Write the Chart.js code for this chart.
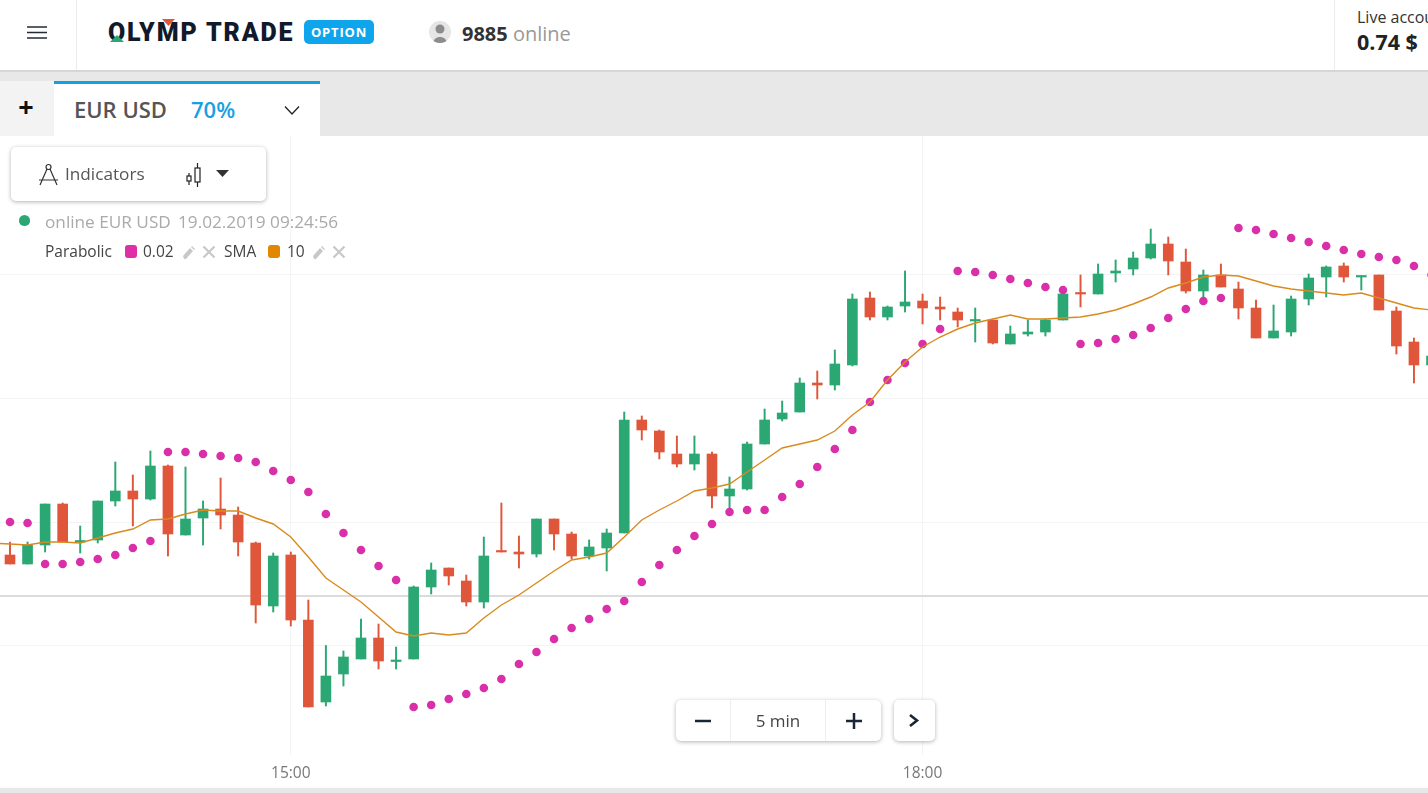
<!DOCTYPE html>
<html lang="en">
<head>
<meta charset="UTF-8">
<title>EUR USD</title>
<style>
    html, body { margin: 0; padding: 0; background: #fff; overflow: hidden; }
    body { width: 1428px; height: 793px; position: relative; font-family: 'Open Sans', sans-serif; color: #444; }
    .abs { position: absolute; white-space: nowrap; }
    #header { left: 0; top: 0; width: 1428px; height: 70px; background: #fff; border-bottom: 2px solid #d6d6d6; }
    #tabs { left: 0; top: 72px; width: 1428px; height: 64px; background: #e8e8e8; }
    #plusTab { left: 0; top: 81px; width: 52px; padding-right: 2px; height: 55px; background: #f3f3f3; font-size: 27px; font-weight: 700; color: #111; text-align: center; line-height: 52px; }
    #eurTab { left: 54px; top: 81px; width: 266px; height: 52px; background: #fff; border-top: 3px solid #12a0e4; }
    #chartWrap { left: 0; top: 136px; width: 1428px; height: 652px; }
    #bottomStrip { left: 0; top: 788px; width: 1428px; height: 5px; background: #e8e8e8; }
    .card { background: #fff; border-radius: 5px; box-shadow: 0 1px 4px rgba(0,0,0,.3); }
    .swatch { width: 12px; height: 13px; border-radius: 3px; }
</style>
<script src="https://cdn.jsdelivr.net/npm/chart.js@4"></script>
</head>
<body>
<div class="abs" id="chartWrap"><canvas id="chart" width="1428" height="652"></canvas></div>

<div class="abs" id="header"></div>
<svg class="abs" style="left:27px;top:26px" width="21" height="13"><path d="M0 1H20M0 6.500H20M0 12H20" stroke="#222b36" stroke-width="1.500"/></svg>
<div class="abs" style="left:76px;top:0;width:1px;height:70px;background:#ececec"></div>
<div class="abs" style="left:108px;top:18px;font:900 25px Roboto,sans-serif;letter-spacing:1.85px;color:#111a2a">OLYMP TRADE</div>
<svg class="abs" style="left:105px;top:18px" width="80" height="26"><path d="M5 24L12 17L19 24Z" fill="#2aa772"/><path d="M57 1H70L63.500 8Z" fill="#e0563a"/></svg>
<div class="abs" style="left:304px;top:20px;width:70px;height:24px;background:#0fa5ec;border-radius:5px;color:#fff;font:700 13px/24px 'Open Sans',sans-serif;text-align:center;letter-spacing:.8px">OPTION</div>
<div class="abs" style="left:429px;top:21px;width:22px;height:22px;border-radius:11px;background:#e6e6e6;overflow:hidden"><svg width="22" height="22"><circle cx="11" cy="8" r="4.500" fill="#8c8c8c"/><path d="M4 22C5 14 17 14 18 22Z" fill="#8c8c8c"/></svg></div>
<div class="abs" style="left:462px;top:20px;font-size:20px;line-height:28px"><b style="color:#333">9885</b> <span style="color:#999">online</span></div>
<div class="abs" style="left:1334px;top:0;width:1px;height:70px;background:#ececec"></div>
<div class="abs" style="left:1357px;top:5px;font-size:16px;line-height:24px;color:#333">Live account</div>
<div class="abs" style="left:1357px;top:27px;font-size:21.500px;line-height:30px;font-weight:700;color:#222">0.74 $</div>

<div class="abs" id="tabs"></div>
<div class="abs" id="plusTab">+</div>
<div class="abs" id="eurTab"></div>
<div class="abs" style="left:74px;top:94px;font-size:22px;line-height:30px;font-weight:600;color:#555">EUR USD</div>
<div class="abs" style="left:191px;top:94px;font-size:22px;line-height:30px;font-weight:600;color:#1a9fe3">70%</div>
<svg class="abs" style="left:284px;top:105px" width="16" height="11"><path d="M1 1.500L8 9L15 1.500" fill="none" stroke="#222" stroke-width="1.300"/></svg>

<div class="abs card" style="left:11px;top:147px;width:255px;height:54px"></div>
<svg class="abs" style="left:38px;top:163px" width="21" height="24" fill="none" stroke="#333" stroke-width="1.200"><circle cx="10.500" cy="4" r="2.500"/><path d="M9 6L2 22M12 6L19 22M1 17H20"/></svg>
<div class="abs" style="left:65px;top:162px;font-size:17.200px;line-height:24px;color:#555">Indicators</div>
<svg class="abs" style="left:185px;top:162px" width="20" height="26" fill="none" stroke="#222" stroke-width="1.200"><rect x="2" y="14" width="4" height="5"/><path d="M4 11V14M4 19V23"/><rect x="10" y="6" width="5" height="14"/><path d="M12.500 1V6M12.500 20V25"/></svg>
<svg class="abs" style="left:216px;top:170px" width="13" height="7"><path d="M0 0H13L6.500 7Z" fill="#333"/></svg>

<div class="abs" style="left:19px;top:215px;width:11px;height:11px;border-radius:50% 50% 45% 45%;background:#2aa772"></div>
<div class="abs" style="left:45px;top:211px;font-size:17.200px;line-height:22px;color:#aaa">online EUR USD</div>
<div class="abs" style="left:178px;top:211px;font-size:17.200px;line-height:22px;color:#aaa">19.02.2019 09:24:56</div>
<div class="abs" style="left:45px;top:241px;font-size:15.500px;line-height:20px;color:#444">Parabolic</div>
<div class="abs swatch" style="left:125px;top:245px;background:#de2fa6"></div>
<div class="abs" style="left:143px;top:241px;font-size:15.500px;line-height:20px;color:#444">0.02</div>
<svg class="abs" style="left:182px;top:245px" width="14" height="15"><path d="M2 14L1 11L8 3L11 6L4 14Z M9 2L10 1L13 4L12 5Z" fill="#c8c8c8"/></svg>
<svg class="abs" style="left:202px;top:245px" width="14" height="14"><path d="M1.500 1.500L12.500 12.500M12.500 1.500L1.500 12.500" stroke="#c8c8c8" stroke-width="2.200"/></svg>
<div class="abs" style="left:224px;top:241px;font-size:15.500px;line-height:20px;color:#444">SMA</div>
<div class="abs swatch" style="left:268px;top:245px;background:#e28700"></div>
<div class="abs" style="left:287px;top:241px;font-size:15.500px;line-height:20px;color:#444">10</div>
<svg class="abs" style="left:312px;top:245px" width="14" height="15"><path d="M2 14L1 11L8 3L11 6L4 14Z M9 2L10 1L13 4L12 5Z" fill="#c8c8c8"/></svg>
<svg class="abs" style="left:332px;top:245px" width="14" height="14"><path d="M1.500 1.500L12.500 12.500M12.500 1.500L1.500 12.500" stroke="#c8c8c8" stroke-width="2.200"/></svg>

<div class="abs card" style="left:676px;top:700px;width:205px;height:41px"></div>
<div class="abs" style="left:730px;top:700px;width:1px;height:41px;background:#eee"></div>
<div class="abs" style="left:825px;top:700px;width:1px;height:41px;background:#eee"></div>
<svg class="abs" style="left:694px;top:712px" width="18" height="18"><path d="M1 9H17" stroke="#1b2635" stroke-width="2.500"/></svg>
<div class="abs" style="left:731px;top:709px;width:94px;text-align:center;font-size:17px;line-height:24px;color:#444">5 min</div>
<svg class="abs" style="left:845px;top:712px" width="18" height="18"><path d="M1 9H17M9 1V17" stroke="#1b2635" stroke-width="2.500"/></svg>
<div class="abs card" style="left:894px;top:700px;width:41px;height:41px"></div>
<svg class="abs" style="left:908px;top:713px" width="12" height="15"><path d="M2 2L9 7.500L2 13" fill="none" stroke="#1b2635" stroke-width="2.600"/></svg>
<div class="abs" id="bottomStrip"></div>

<script>
// 5 min candles, prices in points above 1.13000, first slot is just off the left edge
const times = ['13:35','13:40','13:45','13:50','13:55','14:00','14:05','14:10','14:15','14:20','14:25','14:30','14:35','14:40','14:45','14:50','14:55',
    '15:00','15:05','15:10','15:15','15:20','15:25','15:30','15:35','15:40','15:45','15:50','15:55',
    '16:00','16:05','16:10','16:15','16:20','16:25','16:30','16:35','16:40','16:45','16:50','16:55',
    '17:00','17:05','17:10','17:15','17:20','17:25','17:30','17:35','17:40','17:45','17:50','17:55',
    '18:00','18:05','18:10','18:15','18:20','18:25','18:30','18:35','18:40','18:45','18:50','18:55',
    '19:00','19:05','19:10','19:15','19:20','19:25','19:30','19:35','19:40','19:45','19:50','19:55',
    '20:00','20:05','20:10','20:15','20:20','20:25'];
const tickLabels = ['15:00', '18:00'];
const priceGrid = [0, 123, 247, 371];
const lastPrice = 49;

const highs = [null,103,103,141,142,119,144,183,170,194,180,178,144,167,138,103,92,93,45,0,-6,26,21,-2,59,82,77,70,108,142,109,126,126,113,105,116,233,229,215,209,209,193,168,203,236,244,267,274,295,351,353,339,374,351,348,337,337,325,319,325,326,351,370,381,385,393,416,408,396,375,381,363,345,340,349,371,379,382,369,370,338,307,293];
const lows = [null,81,81,93,103,92,102,139,119,145,89,110,100,116,89,22,33,19,-62,-61,-41,-14,-24,-24,-14,51,60,39,37,93,77,88,95,86,86,74,112,205,186,178,175,137,133,155,201,224,233,246,255,279,325,325,333,321,325,318,303,301,301,309,309,325,338,351,363,370,386,370,352,347,358,326,307,307,309,340,348,363,355,335,291,262,278];
const opens = [null,90,81,100,141,103,105,144,154,146,179,110,127,136,130,102,39,90,25,-57,-29,-14,7,-16,-14,58,77,64,43,94,93,91,126,111,89,97,112,225,214,191,181,191,149,156,201,226,233,262,260,280,347,328,339,344,338,333,324,325,301,311,313,325,352,351,372,376,387,401,383,354,370,356,337,307,313,346,368,379,368,370,334,303,280];
const closes = [null,81,100,141,103,104,144,154,146,179,111,126,136,130,103,40,89,25,-62,-31,-12,7,-16,-15,58,75,69,43,89,93,91,126,111,89,98,112,225,215,193,181,191,149,156,201,225,232,262,260,281,346,328,338,343,337,336,325,325,302,311,313,325,351,351,371,374,387,401,384,354,370,358,337,307,314,346,367,378,368,369,335,299,280,289];
const parabolic = [null,123,122,81,81,83,86,90,97,104,193,193,191,189,187,183,174,165,153,131,112,95,79,65,-62,-60,-54,-49,-43,-34,-19,-7,6,17,26,36,44,63,80,95,109,121,133,135,135,148,161,178,196,215,243,265,282,301,316,374,373,370,366,362,358,355,301,302,306,310,317,327,336,344,347,417,415,411,407,403,399,395,391,388,385,379,370];
const sma = [102,101,100,103,103,102,107,112,116,125,126,131,135,134,134,127,121,108,88,67,55,43,28,13,9,12,10,12,27,40,50,62,74,85,88,92,108,125,135,144,154,157,161,173,185,197,201,205,214,230,243,265,283,298,308,316,322,326,330,326,326,327,328,331,335,341,348,357,362,368,370,369,364,359,356,354,352,350,352,347,342,337,335];

const green = '#2aa772';
const red = '#e0563a';

const slots = times.map((t, i) => i);
const candleSlots = slots.filter(i => opens[i] !== null);
const bodies = candleSlots.map(i => ({ x: i, y: [opens[i], closes[i]] }));
const wicks = candleSlots.map(i => ({ x: i, y: [lows[i], highs[i]] }));
const bodyColors = candleSlots.map(i => closes[i] >= opens[i] ? green : red);

new Chart(document.getElementById('chart'), {
    data: {
        datasets: [
            { type: 'line', label: 'SMA', data: slots.map(i => ({ x: i, y: sma[i] })), borderColor: '#d98a1e', borderWidth: 1.4, pointRadius: 0, tension: 0, order: 0 },
            { type: 'line', label: 'Parabolic', data: slots.map(i => ({ x: i, y: parabolic[i] })), showLine: false, pointRadius: 4.3, pointBorderWidth: 0, pointBackgroundColor: '#d92fa8', order: 1 },
            { type: 'bar', label: 'body', data: bodies, backgroundColor: bodyColors, barThickness: 10, minBarLength: 1.5, grouped: false, order: 2 },
            { type: 'bar', label: 'wick', data: wicks, backgroundColor: bodyColors, barThickness: 1.3, grouped: false, order: 3 },
            { type: 'line', label: 'last', data: [{ x: 0, y: lastPrice }, { x: 82, y: lastPrice }], borderColor: '#dcdcdc', borderWidth: 2, pointRadius: 0, order: 4 }
        ]
    },
    options: {
        responsive: false,
        animation: false,
        layout: { padding: 0, autoPadding: false },
        plugins: { legend: { display: false }, tooltip: { enabled: false } },
        scales: {
            x: {
                type: 'linear',
                min: 0.43,
                max: 81.8,
                offset: false,
                afterBuildTicks: axis => { axis.ticks = tickLabels.map(t => ({ value: times.indexOf(t) })); },
                afterFit: axis => { axis.height = 33; },
                grid: { color: '#f4f4f8', drawTicks: false, offset: false },
                border: { display: false },
                ticks: {
                    autoSkip: false, maxRotation: 0, padding: 9, color: '#777',
                    font: { family: "'Open Sans'", size: 15.5 },
                    callback: v => times[v]
                }
            },
            y: {
                min: -110,
                max: 509,
                afterBuildTicks: axis => { axis.ticks = priceGrid.map(v => ({ value: v })); },
                afterFit: axis => { axis.width = 0; },
                grid: { color: '#f4f4f4', drawTicks: false },
                border: { display: false },
                ticks: { display: false }
            }
        }
    }
});
</script>
</body>
</html>
